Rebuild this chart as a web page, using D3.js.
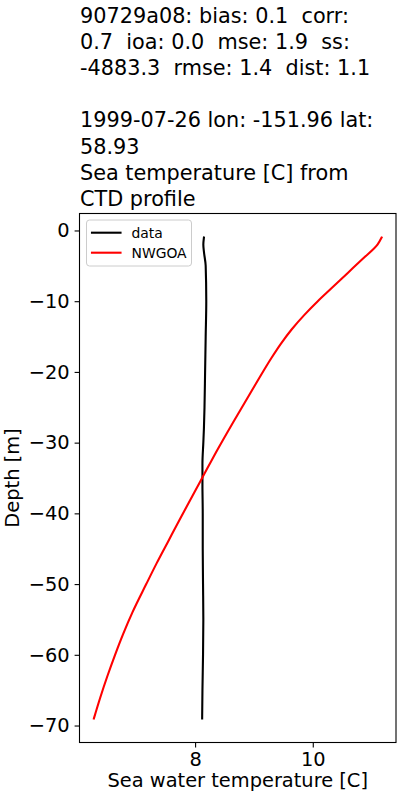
<!DOCTYPE html>
<html lang="en">
<head>
    <meta charset="UTF-8">
    <title>CTD profile</title>
    <style>
        body { margin: 0; background: #fff; }
        svg { font-family: "DejaVu Sans", sans-serif; }
        .titre { white-space: pre; }
    </style>
</head>
<body>
    <script src="https://cdnjs.cloudflare.com/ajax/libs/d3/7.4.4/d3.min.js"></script>
    <script>
'use strict';
// title lines
const titre = [
  "90729a08: bias: 0.1  corr:",
  "0.7  ioa: 0.0  mse: 1.9  ss:",
  "-4883.3  rmse: 1.4  dist: 1.1",
  "",
  "1999-07-26 lon: -151.96 lat:",
  "58.93",
  "Sea temperature [C] from",
  "CTD profile"
];

// observed profile (data)
const obsDepth = [-1, -2, -3, -5, -10, -15, -20, -25, -28, -30, -33, -36, -40, -45, -50, -55, -60, -65, -69];
const obsTemp  = [8.15, 8.14, 8.15, 8.18, 8.19, 8.18, 8.17, 8.16, 8.15, 8.14, 8.125, 8.125, 8.13, 8.13, 8.135, 8.14, 8.135, 8.125, 8.12];

// model profile (NWGOA)
const modDepth = [-1, -2, -4, -6, -8, -10, -12, -14, -16, -18, -22, -27, -31, -35, -41, -44, -47, -50, -54, -57, -60, -63, -66, -69];
const modTemp  = [11.17, 11.10, 10.85, 10.595, 10.34, 10.085, 9.85, 9.64, 9.46, 9.30, 9.01, 8.655, 8.38, 8.12, 7.73, 7.54, 7.35, 7.17, 6.935, 6.78, 6.64, 6.51, 6.39, 6.28];

const xTicks = [8, 10];
const yTicks = [0, -10, -20, -30, -40, -50, -60, -70];

const largeur = 400, hauteur = 800;
const gauche = 79.5, droite = 396, haut = 213.5, bas = 742.5;

const svg = d3.select("body").append("svg")
  .attr("width", largeur)
  .attr("height", hauteur);

// scales with matplotlib-like 5% margins
const xMin = d3.min(modTemp.concat(obsTemp)), xMax = d3.max(modTemp.concat(obsTemp));
const xPad = (xMax - xMin) * 0.05;
const x = d3.scaleLinear()
  .domain([xMin - xPad, xMax + xPad])
  .range([gauche, droite]);

const yMin = d3.min(modDepth), yMax = d3.max(modDepth);
const yPad = (yMax - yMin) * 0.05;
const y = d3.scaleLinear()
  .domain([yMin - yPad, yMax + yPad])
  .range([bas, haut]);

// title
svg.append("text")
  .attr("class", "titre")
  .style("font-size", "20.8px")
  .selectAll("tspan")
  .data(titre)
  .enter()
  .append("tspan")
    .attr("x", 80)
    .attr("y", (d, i) => 22.5 + i * 26.2)
    .text(d => d);

// lines
const ligne = d3.line()
  .x(d => x(d[0]))
  .y(d => y(d[1]))
  .curve(d3.curveMonotoneY);

svg.append("path")
  .datum(obsTemp.map((t, i) => [t, obsDepth[i]]))
  .attr("d", ligne)
  .attr("fill", "none")
  .attr("stroke", "black")
  .attr("stroke-width", 2.1)
  .attr("stroke-linejoin", "round")
  .attr("stroke-linecap", "square");

svg.append("path")
  .datum(modTemp.map((t, i) => [t, modDepth[i]]))
  .attr("d", ligne)
  .attr("fill", "none")
  .attr("stroke", "red")
  .attr("stroke-width", 2.1)
  .attr("stroke-linejoin", "round")
  .attr("stroke-linecap", "square");

// axes
const axeX = svg.append("g")
  .attr("transform", `translate(0,${bas})`)
  .call(d3.axisBottom(x).tickValues(xTicks).tickSize(4.9).tickPadding(4.9).tickFormat(d3.format("d")));
const axeY = svg.append("g")
  .attr("transform", `translate(${gauche},0)`)
  .call(d3.axisLeft(y).tickValues(yTicks).tickSize(4.9).tickPadding(4.9)
    .tickFormat(d => d < 0 ? "\u2212" + Math.abs(d) : d));

[axeX, axeY].forEach(a => {
  a.select(".domain").remove();
  a.selectAll("line").attr("stroke", "black").attr("stroke-width", 1.1);
  a.selectAll("text")
    .attr("fill", "black")
    .style("font-size", "19.4px")
    .style("font-family", "DejaVu Sans");
});

// frame
svg.append("rect")
  .attr("x", gauche)
  .attr("y", haut)
  .attr("width", droite - gauche)
  .attr("height", bas - haut)
  .attr("fill", "none")
  .attr("stroke", "black")
  .attr("stroke-width", 1.1);

// axis labels
svg.append("text")
  .attr("x", (gauche + droite) / 2)
  .attr("y", 787)
  .attr("text-anchor", "middle")
  .style("font-size", "19.4px")
  .text("Sea water temperature [C]");

svg.append("text")
  .attr("transform", `translate(19,${(haut + bas) / 2}) rotate(-90)`)
  .attr("text-anchor", "middle")
  .style("font-size", "19.4px")
  .text("Depth [m]");

// legend
const legende = svg.append("g");
legende.append("rect")
  .attr("x", 86.5)
  .attr("y", 220)
  .attr("width", 105)
  .attr("height", 46)
  .attr("rx", 3)
  .attr("fill", "white")
  .attr("fill-opacity", 0.8)
  .attr("stroke", "#cccccc")
  .attr("stroke-width", 1);

const series = [["data", "black"], ["NWGOA", "red"]];
series.forEach((s, i) => {
  const yy = 232.7 + i * 20;
  legende.append("line")
    .attr("x1", 92).attr("x2", 120.5)
    .attr("y1", yy).attr("y2", yy)
    .attr("stroke", s[1])
    .attr("stroke-width", 2.1)
    .attr("stroke-linecap", "square");
  legende.append("text")
    .attr("x", 131.5)
    .attr("y", yy + 4.9)
    .style("font-size", "13.9px")
    .text(s[0]);
});
    </script>
</body>
</html>
